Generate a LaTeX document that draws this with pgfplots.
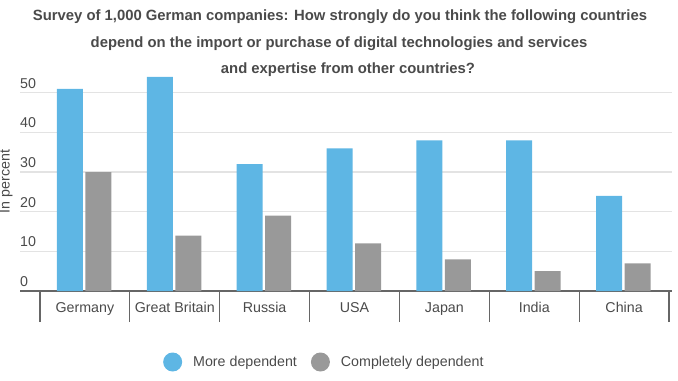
\documentclass[border=0pt]{standalone}
\usepackage{fontspec}
\setmainfont{Liberation Sans}
\usepackage{pgfplots}
\pgfplotsset{compat=1.18}
\definecolor{cblue}{HTML}{5EB6E4}
\definecolor{cgray}{HTML}{999999}
\definecolor{ctext}{HTML}{4A4A4A}
\definecolor{cgrid}{HTML}{E3E3E3}
\definecolor{caxis}{HTML}{666666}
\begin{document}
\begin{tikzpicture}
\path[use as bounding box] (0,0) rectangle (678bp,381bp);
\begin{scope}[every node/.style={font=\bfseries\fontsize{14.9}{17}\selectfont, text=ctext, inner sep=0pt}]
\node at (340bp,364bp) {Survey of 1,000 German companies: How strongly do you think the following countries};
\node at (339bp,337bp) {depend on the import or purchase of digital technologies and services};
\node at (348bp,311bp) {and expertise from other countries?};
\end{scope}
\begin{axis}[
  at={(20bp,90bp)}, anchor=south west,
  scale only axis, width=652bp, height=218bp,
  xmin=-0.7222, xmax=6.533, ymin=0, ymax=55,
  clip=false,
  font=\fontsize{14.3}{16}\selectfont,
  /pgf/number format/assume math mode=true,
  ytick={0,10,20,30,40,50},
  ymajorgrids, grid style={cgrid, line width=1.3bp},
  yticklabel style={anchor=base west, inner sep=0pt, xshift=0pt, yshift=4.5bp, text=ctext},
  ytick style={draw=none},
  xtick={-0.5,0.5,1.5,2.5,3.5,4.5,5.5,6.5},
  x tick label as interval,
  xticklabels={Germany,Great Britain,Russia,USA,Japan,India,China},
  xticklabel style={anchor=base, yshift=10bp, inner sep=0pt, text=ctext},
  xtick style={draw=caxis, line width=1.3bp},
  xtick align=outside, ytick align=inside, major tick length=31bp,
  axis x line*=bottom, axis y line*=left,
  x axis line style={draw=caxis, line width=1.8bp, -},
  y axis line style={draw=none},
  ylabel={In percent},
  ylabel style={at={(axis description cs:-0.021,0.502)}, anchor=center, text=ctext, inner sep=0pt},
  legend columns=2,
  legend style={at={(axis description cs:0.2193,-0.3257)}, anchor=west, draw=none, fill=none,
    inner sep=0pt, nodes={inner sep=0pt, text=ctext},
    /tikz/every odd column/.append style={column sep=11bp},
    /tikz/every even column/.append style={column sep=14bp}},
  legend image code/.code={\fill[#1,draw=none] (9.5bp,0bp) circle (9.5bp);},
]
\addplot[ybar, bar width=26bp, bar shift=-15bp, fill=cblue, draw=none]
  coordinates {(0,51) (1,54) (2,32) (3,36) (4,38) (5,38) (6,24)};
\addlegendentry{More dependent}
\addplot[ybar, bar width=26bp, bar shift=13.5bp, fill=cgray, draw=none]
  coordinates {(0,30) (1,14) (2,19) (3,12) (4,8) (5,5) (6,7)};
\addlegendentry{Completely dependent}
\end{axis}
\end{tikzpicture}
\end{document}
